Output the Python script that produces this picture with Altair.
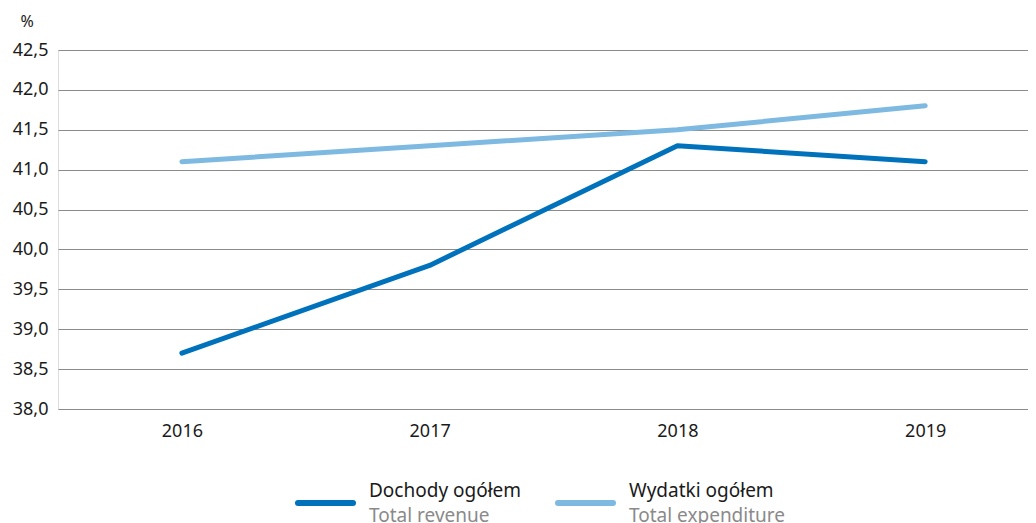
import altair as alt
import pandas as pd

years = [2016, 2017, 2018, 2019]
revenue = [38.7, 39.8, 41.3, 41.1]
expenditure = [41.1, 41.3, 41.5, 41.8]
series_pl = ["Dochody ogółem", "Wydatki ogółem"]
series_en = ["Total revenue", "Total expenditure"]
colors = ["#0072BC", "#7DB9E0"]
y_ticks = [38.0, 38.5, 39.0, 39.5, 40.0, 40.5, 41.0, 41.5, 42.0, 42.5]

rows = []
for y, r, e in zip(years, revenue, expenditure):
    rows.append({"year": y, "value": r, "series": series_pl[0]})
    rows.append({"year": y, "value": e, "series": series_pl[1]})
df = pd.DataFrame(rows)

FONT = "Noto Sans"

x_enc = alt.X("year:Q", scale=alt.Scale(domain=[2015.5, 2019.415], nice=False, zero=False),
              axis=alt.Axis(values=years, format="d", title=None, grid=False, domain=False,
                            ticks=False, labelFontSize=18, labelColor="#1a1a1a", labelPadding=13,
                            labelFont=FONT))
y_enc = alt.Y("value:Q", scale=alt.Scale(domain=[38.0, 42.5], nice=False, zero=False),
              axis=alt.Axis(values=y_ticks, labelExpr="replace(format(datum.value, '.1f'), '.', ',')",
                            title="%", titleAngle=0, titleAlign="left", titleBaseline="middle",
                            titleX=-38, titleY=-29, titleFontSize=16, titleFontWeight="normal",
                            titleColor="#1a1a1a", titleFont=FONT,
                            domain=False, ticks=False, labelFontSize=18, labelColor="#1a1a1a",
                            labelPadding=10, gridColor="#8c8c8c", gridWidth=1.2, labelFont=FONT,
                            labelBaseline="middle"))

lines = alt.Chart(df).mark_line(strokeWidth=5, strokeCap="round", strokeJoin="round").encode(
    x=x_enc, y=y_enc,
    color=alt.Color("series:N", scale=alt.Scale(domain=series_pl, range=colors), legend=None),
)

leg = pd.DataFrame({"pl": series_pl, "en": series_en, "c": colors, "i": [0, 1]})
leg_x0 = [240, 500]
leg["x0"] = leg_x0
leg["x1"] = [x + 55 for x in leg_x0]
leg["tx"] = [x + 71 for x in leg_x0]

base = alt.Chart(leg)
leg_lines = base.mark_rule(strokeWidth=6, strokeCap="round").encode(
    x=alt.X("x0:Q", scale=None), x2="x1:Q", y=alt.value(453),
    color=alt.Color("c:N", scale=None))
leg_pl = base.mark_text(align="left", baseline="middle", fontSize=19, font=FONT, color="#1a1a1a").encode(
    x=alt.X("tx:Q", scale=None), y=alt.value(441), text="pl:N")
leg_en = base.mark_text(align="left", baseline="middle", fontSize=19, font=FONT, color="#8a8a8a").encode(
    x=alt.X("tx:Q", scale=None), y=alt.value(466), text="en:N")

chart = alt.layer(lines, leg_lines, leg_pl, leg_en).resolve_scale(x="independent", color="independent").properties(
    width=970, height=359,
    autosize=alt.AutoSizeParams(type="none"),
    padding={"left": 50, "top": 42, "right": 0, "bottom": 114},
).configure_view(stroke=None).configure(font=FONT)

chart.save("out.html", embed_options={"renderer": "svg", "actions": False})
